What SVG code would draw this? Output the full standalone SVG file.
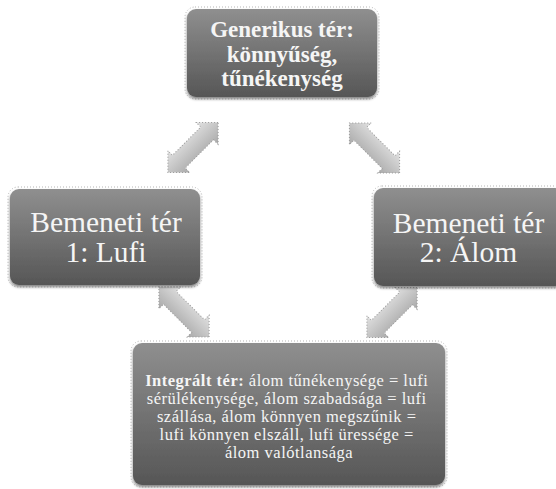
<svg xmlns="http://www.w3.org/2000/svg" width="556" height="489" viewBox="0 0 556 489">
  <defs>
    <linearGradient id="boxGrad" x1="0" y1="0" x2="0" y2="1">
      <stop offset="0" stop-color="#8f8f8f"/>
      <stop offset="1" stop-color="#565656"/>
    </linearGradient>
    <linearGradient id="arrGrad" x1="0" y1="0" x2="0" y2="1">
      <stop offset="0" stop-color="#e2e2e2"/>
      <stop offset="1" stop-color="#a9a9a9"/>
    </linearGradient>
    <filter id="shadow" x="-10%" y="-10%" width="120%" height="130%">
      <feGaussianBlur in="SourceAlpha" stdDeviation="1.5"/>
      <feOffset dx="0" dy="2" result="b"/>
      <feComponentTransfer><feFuncA type="linear" slope="0.5"/></feComponentTransfer>
      <feMerge><feMergeNode/><feMergeNode in="SourceGraphic"/></feMerge>
    </filter>
    <polygon id="dblArrow" points="35.5,0 20,-15.5 20,-9 -20,-9 -20,-15.5 -35.5,0 -20,15.5 -20,9 20,9 20,15.5"/>
  </defs>
  <style>
    .box { fill: url(#boxGrad); filter: url(#shadow); }
    .dots { fill: none; stroke: #b5b5b5; stroke-width: 1; stroke-dasharray: 1 2; }
    .arrow { fill: url(#arrGrad); stroke: #9a9a9a; stroke-width: 1; stroke-dasharray: 1 2; }
    .t { fill: #f5f5f5; font-family: "Liberation Serif", "Times New Roman", serif; text-anchor: middle; }
    .b { font-weight: bold; }
  </style>

  <g id="connectors">
    <use href="#dblArrow" class="arrow" transform="translate(193,147.5) rotate(-45)"/>
    <use href="#dblArrow" class="arrow" transform="translate(374.5,148) rotate(45)"/>
    <use href="#dblArrow" class="arrow" transform="translate(184,312) rotate(45)"/>
    <use href="#dblArrow" class="arrow" transform="translate(392,312.5) rotate(-45)"/>
  </g>

  <g id="generic">
    <rect class="dots" x="185" y="7" width="194" height="92" rx="10"/>
    <rect class="box" x="187" y="9" width="190" height="88" rx="9"/>
    <text class="t b" font-size="23"><tspan x="282" y="37">Generikus tér:</tspan><tspan x="282" y="62">könnyűség,</tspan><tspan x="282" y="86">tűnékenység</tspan></text>
  </g>

  <g id="input1">
    <rect class="dots" x="8" y="187" width="194" height="100" rx="10"/>
    <rect class="box" x="10" y="189" width="190" height="96" rx="9"/>
    <text class="t" font-size="29.5"><tspan x="106" y="232">Bemeneti tér</tspan><tspan x="106" y="262">1: Lufi</tspan></text>
  </g>

  <g id="input2">
    <rect class="dots" x="372" y="186" width="194" height="102" rx="10"/>
    <rect class="box" x="374" y="188" width="190" height="98" rx="9"/>
    <text class="t" font-size="29.5"><tspan x="468.5" y="233">Bemeneti tér</tspan><tspan x="468.5" y="262">2: Álom</tspan></text>
  </g>

  <g id="integrated">
    <rect class="dots" x="131" y="341" width="316" height="146" rx="10"/>
    <rect class="box" x="133" y="343" width="312" height="142" rx="9"/>
    <text class="t" font-size="16.5" letter-spacing="0.5">
      <tspan x="289" y="386"><tspan class="b">Integrált tér:</tspan> álom tűnékenysége = lufi</tspan>
      <tspan x="289" y="404">sérülékenysége, álom szabadsága = lufi</tspan>
      <tspan x="289" y="422">szállása, álom könnyen megszűnik =</tspan>
      <tspan x="289" y="440">lufi könnyen elszáll, lufi üressége =</tspan>
      <tspan x="289" y="458">álom valótlansága</tspan>
    </text>
  </g>
</svg>
